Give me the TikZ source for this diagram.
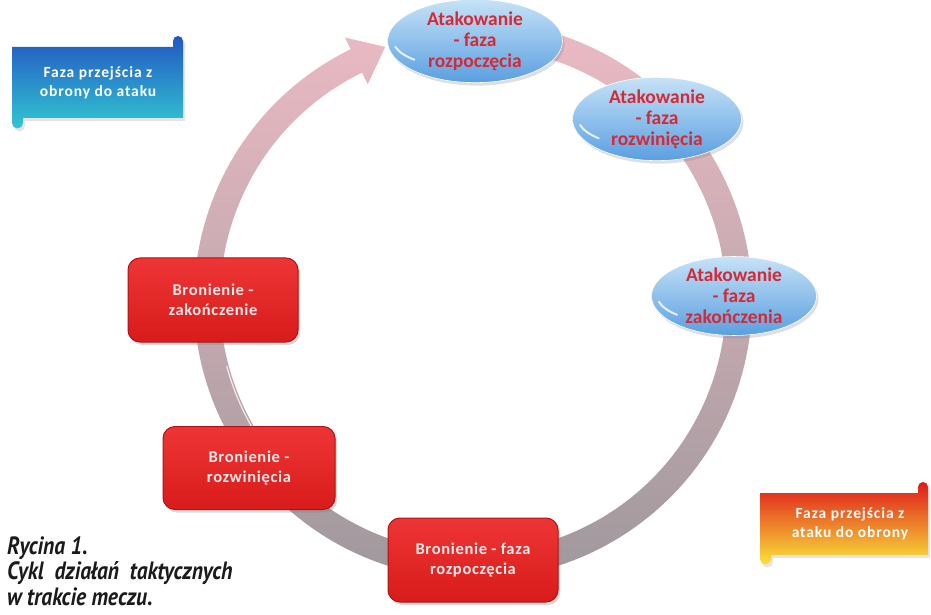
\documentclass[tikz,border=0pt]{standalone}
\usepackage{fontspec}
\setmainfont{Carlito}
\newfontfamily\capfont[FakeStretch=0.86]{PT Sans}
\usetikzlibrary{shapes.geometric,shadows,calc}
\definecolor{ringtop}{HTML}{EBBAC3}
\definecolor{ringmid}{HTML}{CDB3B9}
\definecolor{ringbot}{HTML}{9C979B}
\definecolor{elltop}{HTML}{C6E2F7}
\definecolor{ellbot}{HTML}{5A9FE0}
\definecolor{elltext}{HTML}{D42A35}
\definecolor{boxtop}{HTML}{EE3535}
\definecolor{boxbot}{HTML}{D81B1B}
\definecolor{boxline}{HTML}{B01414}
\definecolor{boxtext}{HTML}{F8EAEA}
\definecolor{bluetop}{HTML}{2257C2}
\definecolor{bluebot}{HTML}{33C6D2}
\definecolor{redtop}{HTML}{DF1A1A}
\definecolor{redmid}{HTML}{F0781F}
\definecolor{redbot}{HTML}{F9E33A}
\definecolor{captext}{HTML}{1A1A1A}
\tikzset{
  ellnode/.style={ellipse, draw=white, line width=0.6pt, inner sep=0pt,
    top color=elltop, bottom color=ellbot, text=elltext, align=center,
    font=\bfseries\fontsize{19.5}{21}\selectfont,
    drop shadow={opacity=0.25, shadow xshift=2pt, shadow yshift=-3pt}},
  boxnode/.style={rectangle, rounded corners=12pt, draw=boxline, line width=1pt,
    top color=boxtop, bottom color=boxbot, text=boxtext, align=center,
    minimum width=170, minimum height=84, inner sep=0pt,
    font=\bfseries\addfontfeature{LetterSpace=4}\fontsize{16.5}{20.5}\selectfont,
    drop shadow={opacity=0.3, shadow xshift=2pt, shadow yshift=-3pt}},
  bannertext/.style={text=white, align=center, inner sep=0pt,
    font=\bfseries\addfontfeature{LetterSpace=6}\fontsize{15.5}{19.5}\selectfont},
  gloss/.style={white, line width=2pt, opacity=0.8, line cap=round}
}
\begin{document}
\begin{tikzpicture}[x=1pt,y=1pt]
\useasboundingbox (0,0) rectangle (931,614);
\fill[white] (0,0) rectangle (931,614);
\coordinate (O) at (473,314);
% ring arrow
\shade[top color=ringtop, middle color=ringmid, bottom color=ringbot]
  ($(O)+(80:279)$) arc[start angle=80,end angle=-244,radius=279]
  -- ($(O)+(116:292)$) -- ($(O)+(116:266)+(26:32)$) -- ($(O)+(116:240)$)
  -- ($(O)+(116:253)$) arc[start angle=-244,end angle=80,radius=253] -- cycle;
\draw[white, line width=1.2pt, opacity=0.8] ($(O)+(195:255)$) arc[start angle=195,end angle=235,radius=255];
% blue banner
\shade[top color=bluetop, bottom color=bluebot, drop shadow={opacity=0.2, shadow xshift=2pt, shadow yshift=-3pt}]
  (12,567) -- (173,567) -- (173,573) arc[start angle=180,end angle=0,radius=5]
  -- (183,496) -- (23,496) -- (23,491) arc[start angle=0,end angle=-180,radius=5.5] -- cycle;
\node[bannertext] (b1) at (98,531) {Faza przejścia z\\obrony do ataku};
% red banner
\shade[top color=redtop, middle color=redmid, bottom color=redbot, drop shadow={opacity=0.2, shadow xshift=2pt, shadow yshift=-3pt}]
  (760,121) -- (918,121) -- (918,127) arc[start angle=180,end angle=0,radius=5]
  -- (928,59) -- (771,59) -- (771,55) arc[start angle=0,end angle=-180,radius=5.5] -- cycle;
\node[bannertext] (b2) at (850,90) {Faza przejścia z\\ataku do obrony};
% ellipses
\node[ellnode, minimum width=175, minimum height=78] (e1) at (475,573) {Atakowanie\\- faza\\rozpoczęcia};
\node[ellnode, minimum width=169, minimum height=80] (e2) at (657,495) {Atakowanie\\- faza\\rozwinięcia};
\node[ellnode, minimum width=165, minimum height=78] (e3) at (734,318) {Atakowanie\\- faza\\zakończenia};
\foreach \e/\a/\b in {e1/87.5/39, e2/84.5/40, e3/82.5/39}{
  \draw[gloss] ($(\e.center)+(192:{0.93*\a} and {0.72*\b})$)
    arc[start angle=192,end angle=222,x radius={0.93*\a},y radius={0.72*\b}];
}
% red boxes
\node[boxnode] (r1) at (213,314) {Bronienie -\\zakończenie};
\node[boxnode, minimum width=172, minimum height=83] (r2) at (249,146) {Bronienie -\\rozwinięcia};
\node[boxnode] (r3) at (473,54) {Bronienie - faza\\rozpoczęcia};
% caption
\node[anchor=north west, align=left, inner sep=0pt, text=captext,
  font=\capfont\bfseries\itshape\fontsize{25}{25.5}\selectfont] (cap) at (7,78)
  {Rycina 1.\\Cykl\ \ działań\ \ taktycznych\\w trakcie meczu.};
\end{tikzpicture}
\end{document}
